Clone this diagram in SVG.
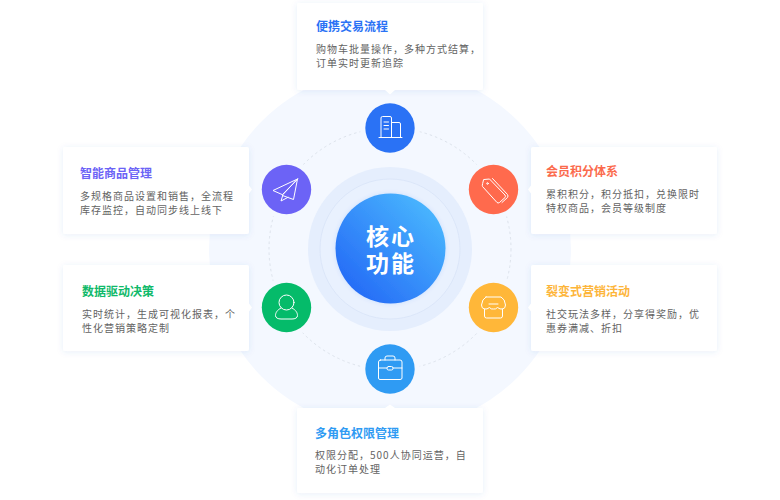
<svg xmlns="http://www.w3.org/2000/svg" width="780" height="500" viewBox="0 0 780 500">
<style>
text{font-family:"Noto Sans CJK SC","Noto Sans",sans-serif}
.c{font-family:"Liberation Sans","Noto Sans CJK SC",sans-serif;font-size:23px;font-weight:700;letter-spacing:2px;fill:#fff}
.t{font-size:12px;font-weight:700}
.b{font-size:10px;letter-spacing:1px;fill:#636363}
.card{fill:#fff;filter:url(#sh)}
.i{fill:none;stroke:#fff;stroke-width:1;stroke-linejoin:round;stroke-linecap:round}
</style>
<defs>
<linearGradient id="core" x1="0" y1="1" x2="1" y2="0"><stop offset="0.1" stop-color="#2469f6"/><stop offset="0.9" stop-color="#4ab8fe"/></linearGradient>
<filter id="sh" x="-20%" y="-20%" width="140%" height="150%"><feDropShadow dx="0" dy="1" stdDeviation="3" flood-color="#2f62c8" flood-opacity="0.10"/></filter>
<filter id="cs" x="-20%" y="-20%" width="140%" height="140%"><feDropShadow dx="0" dy="0" stdDeviation="2" flood-color="#2469f6" flood-opacity="0.15"/></filter>
</defs>
<rect width="780" height="500" fill="#fff"/>
<g id="backdrop">
<circle cx="390" cy="249" r="181" fill="#f4f8ff"/>
<circle cx="390" cy="249" r="82" fill="#e5eefd"/>
<circle cx="390" cy="249" r="70" fill="#e9f1fe" stroke="#d8e3f8" stroke-width="0.8"/>
</g>
<g id="connectors">
<circle cx="390" cy="249" r="121" fill="none" stroke="#dde3ec" stroke-width="1" stroke-dasharray="2.5 3"/>
</g>
<g id="core-node">
<circle cx="390.500" cy="248.500" r="55" fill="url(#core)" filter="url(#cs)"/>
<text class="c" x="391" y="244.500" text-anchor="middle">核心</text>
<text class="c" x="391" y="271.500" text-anchor="middle">功能</text>
</g>
<g id="node-top">
<circle cx="390" cy="128" r="30" fill="#f4f8ff"/>
<rect class="card" x="297" y="3" width="186" height="87" rx="2"/>
<path d="M385 90L390 94.500L395 90Z" fill="#fff"/>
<text class="t" x="316" y="31" fill="#2a72f5">便携交易流程</text>
<text class="b" x="316" y="53">购物车批量操作，多种方式结算，</text>
<text class="b" x="316" y="67">订单实时更新追踪</text>
<circle cx="390" cy="128" r="24.700" fill="#2a72f5"/>
<path class="i" d="M379 137.500H402M381 137.500V118Q381 116.500 382.500 116.500H390Q391.500 116.500 391.500 118V137.500M391.500 122.500H399Q400.500 122.500 400.500 124V137.500M384 122H388.500M384 125.500H388.500M384 129H388.500"/>
</g>
<g id="node-left-1">
<circle cx="286.500" cy="189.500" r="30" fill="#f4f8ff"/>
<rect class="card" x="63" y="147" width="186" height="87" rx="2"/>
<path d="M249 185.500L252 189.500L249 193.500Z" fill="#fff"/>
<text class="t" x="80" y="178" fill="#6c63f6">智能商品管理</text>
<text class="b" x="80" y="200">多规格商品设置和销售，全流程</text>
<text class="b" x="80" y="214">库存监控，自动同步线上线下</text>
<circle cx="286.500" cy="189.500" r="24.700" fill="#6c63f6"/>
<path class="i" d="M297.500 179L273 190.500L282 194.500ZM297.500 179L293.500 199.500L282.500 195.500M297.500 179L283 194.500L281 201L288 197.300"/>
</g>
<g id="node-left-2">
<circle cx="286.500" cy="307.500" r="30" fill="#f4f8ff"/>
<rect class="card" x="63" y="265" width="186" height="86" rx="2"/>
<path d="M249 303.500L252 307.500L249 311.500Z" fill="#fff"/>
<text class="t" x="82" y="296" fill="#10b96a">数据驱动决策</text>
<text class="b" x="82" y="318">实时统计，生成可视化报表，个</text>
<text class="b" x="82" y="332">性化营销策略定制</text>
<circle cx="286.500" cy="307.500" r="24.700" fill="#05bb6a"/>
<circle class="i" cx="286.500" cy="302.500" r="7.500"/>
<path class="i" d="M281 308C277 310 275.500 313 275.500 315.500C275.500 318 278 319 281 319H292C295 319 297.500 318 297.500 315.500C297.500 313 296 310 292 308"/>
</g>
<g id="node-right-1">
<circle cx="493.500" cy="189.500" r="30" fill="#f4f8ff"/>
<rect class="card" x="531" y="147" width="186" height="87" rx="2"/>
<path d="M531 185.500L528 189.500L531 193.500Z" fill="#fff"/>
<text class="t" x="546" y="176" fill="#fb6a4c">会员积分体系</text>
<text class="b" x="546" y="198">累积积分，积分抵扣，兑换限时</text>
<text class="b" x="546" y="212">特权商品，会员等级制度</text>
<circle cx="493.500" cy="189.500" r="24.700" fill="#ff6a4d"/>
<path class="i" d="M484 179.500L489.500 179L505 195Q506 196.500 505 197.500L499.500 202.500Q498 203.500 497 202.500L482.500 186.500Q482 185.500 482.500 184ZM492.500 178.500L507.500 194.500Q508.500 196 507.500 197.500L502 202.500"/>
<circle class="i" cx="487.500" cy="183.500" r="0.800"/>
</g>
<g id="node-right-2">
<circle cx="493.500" cy="307.500" r="30" fill="#f4f8ff"/>
<rect class="card" x="531" y="265" width="186" height="86" rx="2"/>
<path d="M531 303.500L528 307.500L531 311.500Z" fill="#fff"/>
<text class="t" x="546" y="296" fill="#fdb53a">裂变式营销活动</text>
<text class="b" x="546" y="318">社交玩法多样，分享得奖励，优</text>
<text class="b" x="546" y="332">惠券满减、折扣</text>
<circle cx="493.500" cy="307.500" r="24.700" fill="#ffb739"/>
<path class="i" d="M486 297H501Q505 299 505.500 305Q505.500 308.500 502.500 309Q500 309.500 497.500 307.500Q495.500 309.500 493.500 309Q491 309.500 489.500 307.500Q487 309.500 484.500 309Q481.500 308.500 481.500 305Q482 299 486 297ZM484.500 309V316Q484.500 318 486.500 318H500.500Q502.500 318 502.500 316V309M489 304H498"/>
</g>
<g id="node-bottom">
<circle cx="390" cy="369" r="30" fill="#f4f8ff"/>
<rect class="card" x="297" y="408" width="186" height="85" rx="2"/>
<path d="M385 408L390 404.500L395 408Z" fill="#fff"/>
<text class="t" x="315" y="438" fill="#2f9bf3">多角色权限管理</text>
<text class="b" x="315" y="459">权限分配，500人协同运营，自</text>
<text class="b" x="315" y="473">动化订单处理</text>
<circle cx="390" cy="369" r="24.700" fill="#2f9bf3"/>
<path class="i" d="M380.500 360H400Q402 360 402 362V378Q402 379.500 400 379.500H380Q378.500 379.500 378.500 378V362Q378.500 360 380.500 360ZM385 360V358Q385 356 387 356H393Q395 356 395 358V360M378.500 368H387M393 368H402"/>
<rect class="i" x="387" y="366.500" width="6" height="3.500" rx="1.500"/>
</g>
</svg>
